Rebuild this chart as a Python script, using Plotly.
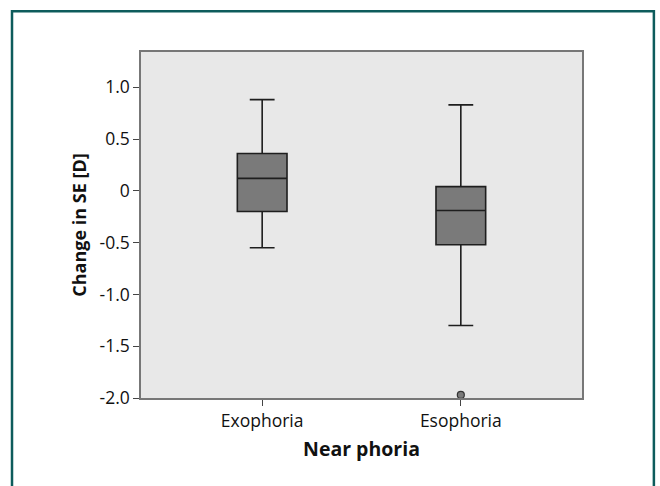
import plotly.graph_objects as go

categories = ["Exophoria", "Esophoria"]
upper_whisker = [0.88, 0.83]
q3_values = [0.36, 0.04]
median_values = [0.12, -0.19]
q1_values = [-0.20, -0.52]
lower_whisker = [-0.55, -1.30]
outlier_cats = ["Esophoria"]
outlier_values = [-1.97]
y_tick_vals = [1.0, 0.5, 0.0, -0.5, -1.0, -1.5, -2.0]
y_tick_text = ["1.0", "0.5", "0", "-0.5", "-1.0", "-1.5", "-2.0"]

FONT = "Open Sans"

fig = go.Figure()
fig.add_trace(go.Box(
    x=categories,
    q1=q1_values, median=median_values, q3=q3_values,
    lowerfence=lower_whisker, upperfence=upper_whisker,
    fillcolor="#7a7a7a",
    line=dict(color="#1e1e1e", width=1.6),
    width=0.25,
    whiskerwidth=0.5,
    boxpoints=False,
    showlegend=False,
    hoverinfo="skip",
))
fig.add_trace(go.Scatter(
    x=outlier_cats, y=outlier_values, mode="markers",
    marker=dict(size=7, color="#7a7a7a", line=dict(color="#333333", width=1.2)),
    showlegend=False, hoverinfo="skip",
))

fig.add_shape(type="rect", xref="paper", yref="paper",
              x0=-0.2925, x1=1.163, y0=-0.35, y1=1.118,
              line=dict(color="#0d5c5c", width=2.5), fillcolor="rgba(0,0,0,0)",
              layer="below")

fig.update_layout(
    width=660, height=486,
    margin=dict(l=141, r=78, t=52, b=88),
    paper_bgcolor="white",
    plot_bgcolor="#e8e8e8",
    font=dict(family=FONT, color="#111111"),
    xaxis=dict(
        type="category",
        range=[-0.61, 1.61],
        showline=True, linecolor="#777777", linewidth=1.5, mirror=True,
        ticks="outside", ticklen=6, tickcolor="#444444", tickwidth=1,
        tickfont=dict(size=17.5, family=FONT),
        showgrid=False, zeroline=False,
        title=dict(text="<b>Near phoria</b>", font=dict(size=19.5, family=FONT), standoff=12),
    ),
    yaxis=dict(
        range=[-2.0, 1.34],
        tickvals=y_tick_vals, ticktext=y_tick_text,
        showline=True, linecolor="#777777", linewidth=1.5, mirror=True,
        ticks="outside", ticklen=6, tickcolor="#444444", tickwidth=1,
        tickfont=dict(size=17.5, family=FONT),
        showgrid=False, zeroline=False,
        title=dict(text="<b>Change in SE [D]</b>", font=dict(size=18, family=FONT), standoff=8),
    ),
)

fig.write_html("out.html")
